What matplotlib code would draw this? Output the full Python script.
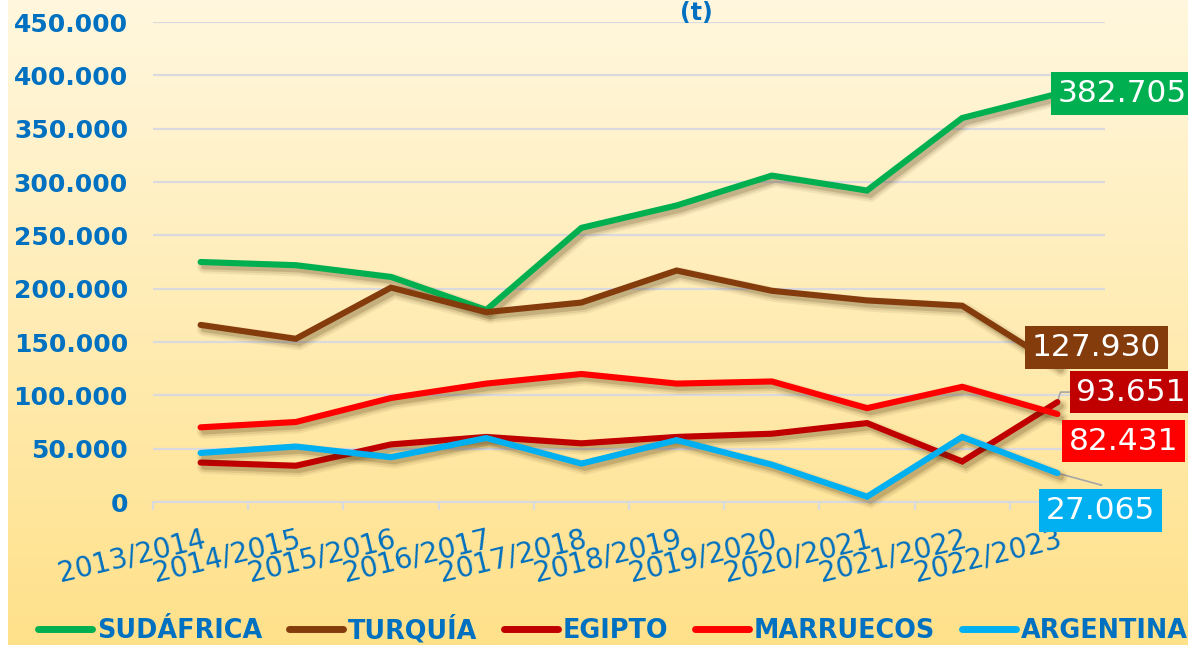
import matplotlib
matplotlib.use("Agg")
import matplotlib.pyplot as plt
import matplotlib.patheffects as pe
import matplotlib.transforms as mtransforms
from matplotlib.lines import Line2D
import numpy as np

categories = ["2013/2014", "2014/2015", "2015/2016", "2016/2017", "2017/2018",
              "2018/2019", "2019/2020", "2020/2021", "2021/2022", "2022/2023"]
sudafrica = [225000, 222000, 211000, 180000, 257000, 278000, 306000, 292000, 360000, 382705]
turquia = [166000, 153000, 201000, 178000, 187000, 217000, 198000, 189000, 184000, 127930]
egipto = [37000, 34000, 54000, 61000, 55000, 61000, 64000, 74000, 38000, 93651]
marruecos = [70000, 75000, 97500, 111000, 120000, 111000, 113000, 88000, 108000, 82431]
argentina = [46000, 52000, 42000, 60000, 36000, 58000, 35000, 5000, 61000, 27065]

series_names = ["SUDÁFRICA", "TURQUÍA", "EGIPTO", "MARRUECOS", "ARGENTINA"]
series_values = [sudafrica, turquia, egipto, marruecos, argentina]
colors = ["#00B050", "#843C0C", "#C00000", "#FF0000", "#00B0F0"]
y_ticks = [0, 50000, 100000, 150000, 200000, 250000, 300000, 350000, 400000, 450000]

# label offsets (pixels) relative to last point, and horizontal alignment
label_offsets = [(0, 0, "left"), (39, 18, "center"), (19, 10, "left"),
                 (11, -27, "left"), (43, -37, "center")]
leader = [False, False, True, False, True]

BLUE = "#0070C0"
GRID = "#D9D9DE"

W, H = 1188, 645
fig = plt.figure(figsize=(W / 100, H / 100), dpi=100)
fig.patch.set_facecolor("white")

# background gradient
bg = fig.add_axes([8 / W, 0, 1 - 8 / W, 1])
bg.set_axis_off()
top = np.array([255, 247, 222]) / 255
bot = np.array([255, 225, 138]) / 255
t = np.linspace(0, 1, 256)[:, None]
grad = top[None, :] * (1 - t) + bot[None, :] * t
bg.imshow(grad[:, None, :], aspect="auto", extent=[0, 1, 0, 1], zorder=0)
bg.set_zorder(0)

left, right = 153 / W, 1105 / W
bottom, topy = 1 - 502 / H, 1 - 22 / H
ax = fig.add_axes([left, bottom, right - left, topy - bottom])
ax.set_zorder(1)
ax.patch.set_alpha(0)

x = np.arange(len(categories))
lw = 4.4
for name, vals, c in zip(series_names, series_values, colors):
    effects = [
        pe.SimpleLineShadow(offset=(2.5, -3), shadow_color="#4a3008", alpha=0.07, linewidth=lw + 6),
        pe.SimpleLineShadow(offset=(2.5, -3), shadow_color="#4a3008", alpha=0.10, linewidth=lw + 3),
        pe.SimpleLineShadow(offset=(2.5, -3), shadow_color="#4a3008", alpha=0.18, linewidth=lw),
        pe.Normal(),
    ]
    ax.plot(x, vals, color=c, lw=lw, solid_joinstyle="miter", solid_capstyle="round",
            path_effects=effects, zorder=3, clip_on=False)

ax.set_xlim(-0.5, len(categories) - 0.5)
ax.set_ylim(0, 450000)
ax.set_yticks(y_ticks)
ax.set_yticklabels([f"{v:,.0f}".replace(",", ".") for v in y_ticks])
ax.tick_params(axis="y", length=0, pad=18, labelsize=18, labelcolor=BLUE)
for lab in ax.get_yticklabels():
    lab.set_fontweight("bold")
ax.grid(axis="y", color=GRID, lw=1.6, zorder=1)
ax.set_axisbelow(True)
for s in ["top", "right", "left"]:
    ax.spines[s].set_visible(False)
ax.spines["bottom"].set_color(GRID)
ax.spines["bottom"].set_linewidth(1.6)
ax.set_xticks(np.arange(-0.5, len(categories), 1.0))
ax.set_xticklabels([])
ax.tick_params(axis="x", length=6, width=1.6, color=GRID, direction="out")

trans = mtransforms.blended_transform_factory(ax.transData, ax.transAxes)
for i, cat in enumerate(categories):
    ax.text(i + 0.01, -0.048, cat, transform=trans, rotation=13.5, rotation_mode="anchor",
            ha="right", va="top", fontsize=20, color=BLUE)

# end-point labels
for k, (vals, c) in enumerate(zip(series_values, colors)):
    dx, dy, ha = label_offsets[k]
    xv, yv = x[-1], vals[-1]
    txt = f"{yv:,.0f}".replace(",", ".")
    ax.annotate(txt, xy=(xv, yv), xytext=(dx, dy), textcoords="offset pixels",
                ha=ha, va="center", fontsize=22.5, color="white",
                bbox=dict(boxstyle="square,pad=0.22", fc=c, ec="none"),
                zorder=6, annotation_clip=False)
    if leader[k]:
        p0 = ax.transData.transform((xv, yv))
        if k == 2:
            pts = [p0, p0 + np.array([3, 10]), p0 + np.array([13, 10])]
        else:
            pts = [p0, p0 + np.array([44, -12])]
        pts = np.array(pts)
        ax.add_line(Line2D(pts[:, 0], pts[:, 1], transform=None, color="#A6A6A6",
                           lw=1.2, zorder=2))

# title
fig.text(696 / W, 1 - 1 / H, "(t)", ha="center", va="top", fontsize=17,
         fontweight="bold", color=BLUE)

# legend
handles = [Line2D([0], [0], color=c, lw=5, solid_capstyle="round") for c in colors]
leg = fig.legend(handles, series_names, loc="center", bbox_to_anchor=(613 / W, 1 - 630 / H),
                 ncol=5, frameon=False, handlelength=2.1, handletextpad=0.2,
                 columnspacing=1.05, prop=dict(size=18.4, weight="bold"), borderaxespad=0)
for tx in leg.get_texts():
    tx.set_color(BLUE)

fig.savefig("out.png", dpi=100, facecolor=fig.get_facecolor())
